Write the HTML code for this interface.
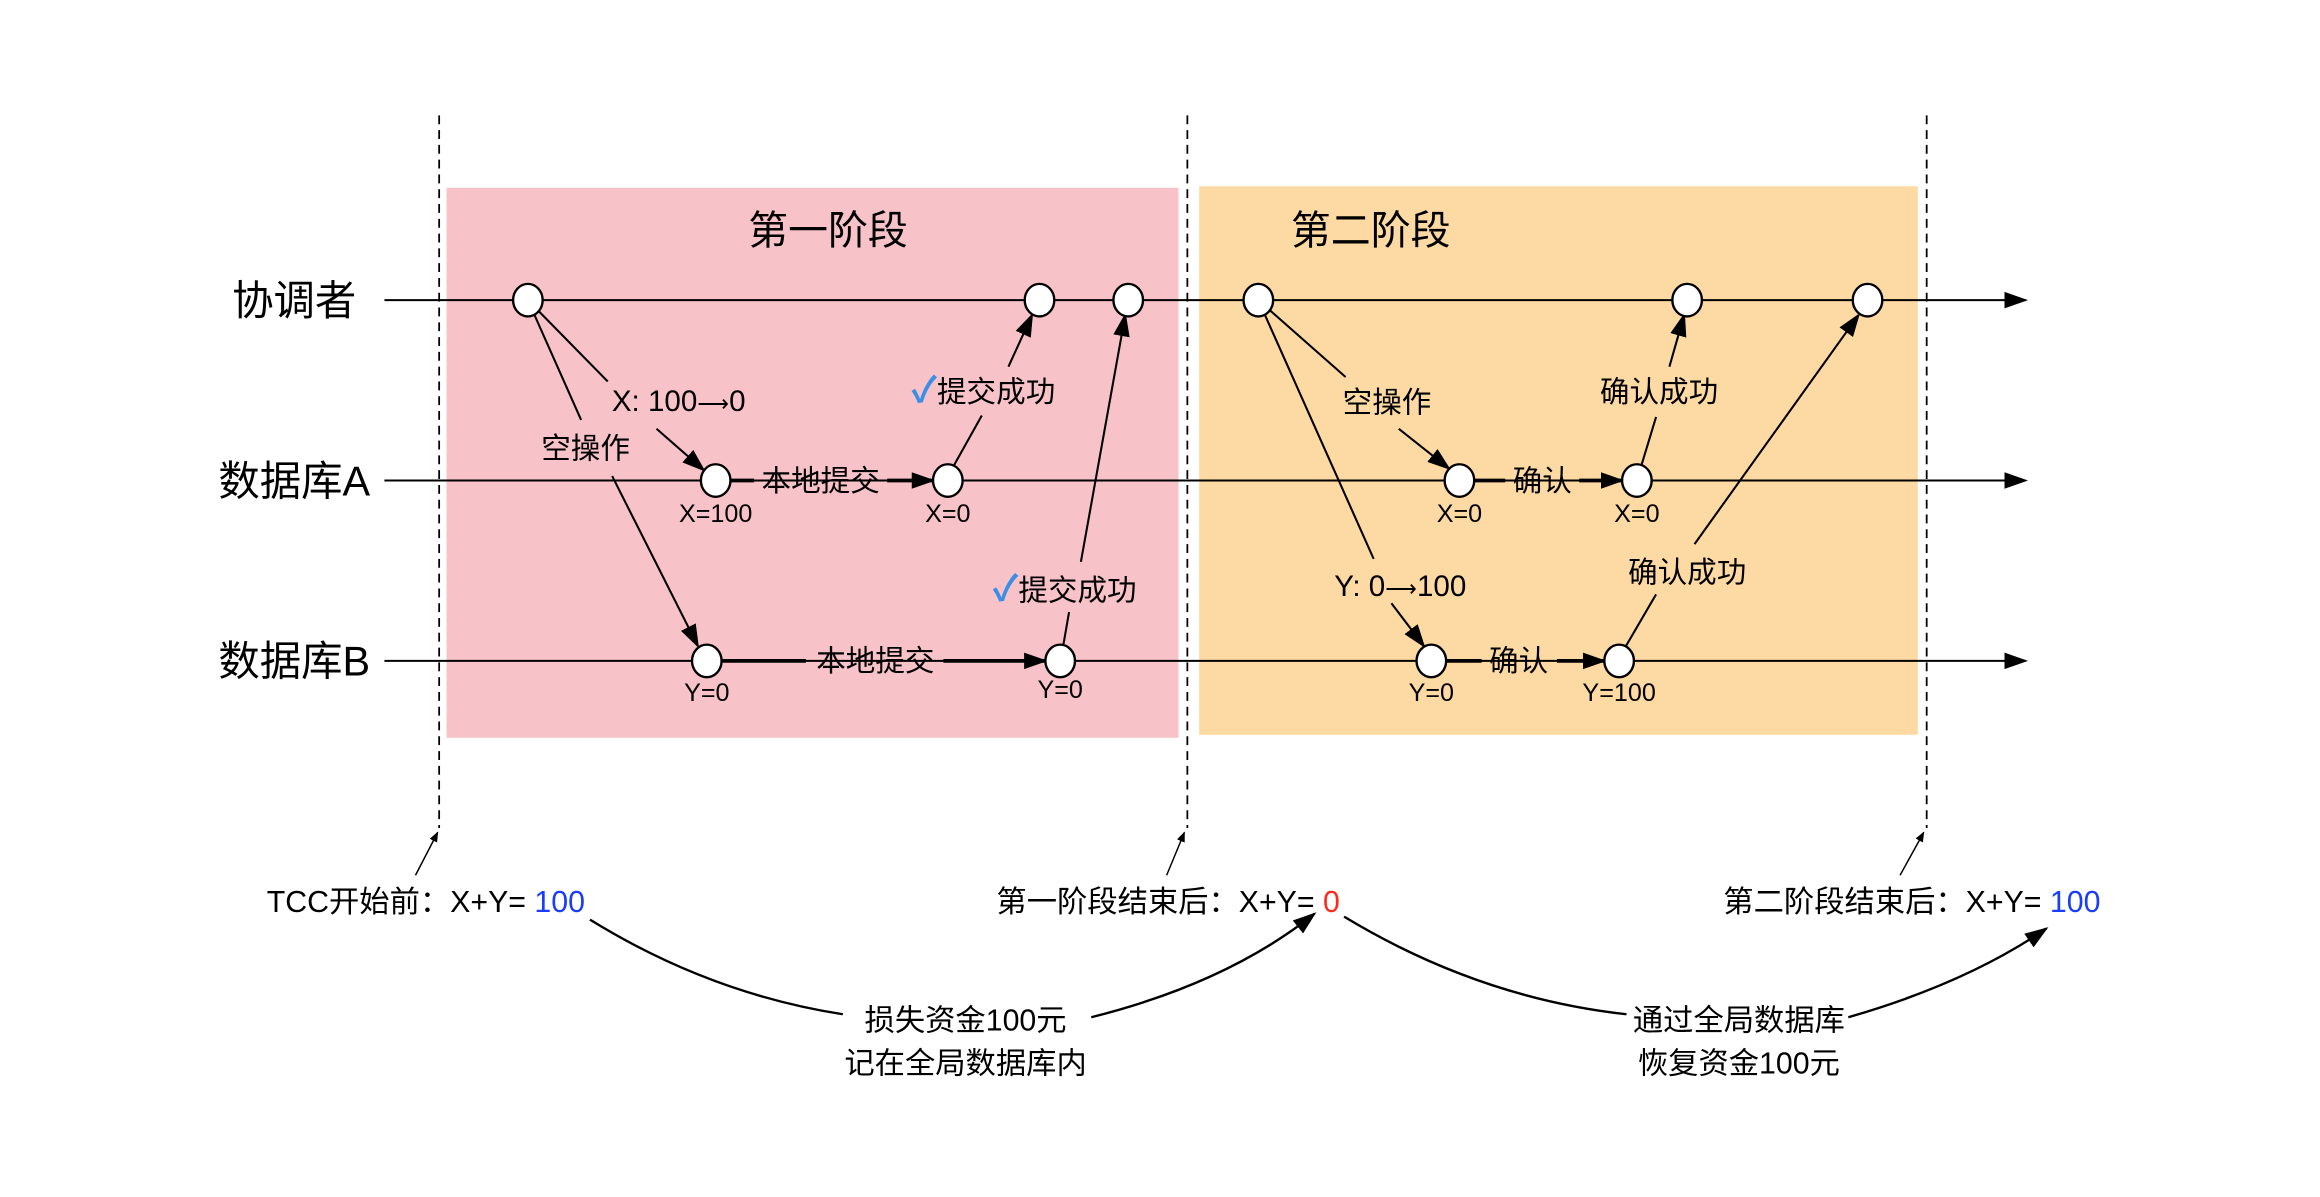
<!DOCTYPE html>
<html><head><meta charset="utf-8"><style>
html,body{margin:0;padding:0;background:#fff;}
svg{display:block;}
text{font-family:"Liberation Sans","Noto Sans CJK SC",sans-serif;fill:#000;}
</style></head><body>
<svg width="2320" height="1197" viewBox="0 0 1569 809.6" preserveAspectRatio="none" xmlns="http://www.w3.org/2000/svg">
<defs>
<marker id="b" viewBox="0 0 10 10" refX="9" refY="5" markerWidth="16" markerHeight="16" markerUnits="userSpaceOnUse" orient="auto"><path d="M0,1.5L10,5L0,8.5z" fill="#000"/></marker>
<marker id="s" viewBox="0 0 10 10" refX="9" refY="5" markerWidth="7" markerHeight="7" markerUnits="userSpaceOnUse" orient="auto"><path d="M0,1L10,5L0,9z" fill="#000"/></marker>
</defs>
<rect x="302" y="127" width="495" height="372" fill="#f8c2c9"/>
<rect x="811" y="126" width="486" height="371" fill="#fdd9a3"/>
<g stroke="#000" stroke-width="1.2" stroke-dasharray="6,4">
<line x1="297" y1="78" x2="297" y2="560"/>
<line x1="803" y1="78" x2="803" y2="560"/>
<line x1="1303" y1="78" x2="1303" y2="560"/>
</g>
<g stroke="#000" stroke-width="1.4">
<line x1="260" y1="203" x2="1370" y2="203" marker-end="url(#b)"/>
<line x1="260" y1="325" x2="1370" y2="325" marker-end="url(#b)"/>
<line x1="260" y1="447" x2="1370" y2="447" marker-end="url(#b)"/>
</g>
<g font-size="28" text-anchor="middle">
<text x="199" y="213">协调者</text>
<text x="199" y="335">数据库A</text>
<text x="199" y="457">数据库B</text>
</g>
<g font-size="27" text-anchor="middle">
<text x="560" y="165">第一阶段</text>
<text x="927" y="165">第二阶段</text>
</g>
<g stroke="#000" stroke-width="1.4" fill="none">
<line x1="357" y1="203" x2="411" y2="258"/>
<line x1="444" y1="290" x2="476" y2="318" marker-end="url(#b)"/>
<line x1="357" y1="203" x2="393" y2="284"/>
<line x1="414" y1="322" x2="472" y2="437" marker-end="url(#b)"/>
<line x1="494" y1="325" x2="510" y2="325" stroke-width="2.5"/>
<line x1="600" y1="325" x2="631" y2="325" stroke-width="2.5" marker-end="url(#b)"/>
<line x1="645" y1="315" x2="664" y2="281"/>
<line x1="682" y1="248" x2="698" y2="213" marker-end="url(#b)"/>
<line x1="488" y1="447" x2="545" y2="447" stroke-width="2.5"/>
<line x1="638" y1="447" x2="707" y2="447" stroke-width="2.5" marker-end="url(#b)"/>
<line x1="719" y1="437" x2="723" y2="414"/>
<line x1="731" y1="380" x2="761" y2="213" marker-end="url(#b)"/>
<line x1="851" y1="203" x2="910" y2="255"/>
<line x1="946" y1="290" x2="980" y2="317" marker-end="url(#b)"/>
<line x1="851" y1="203" x2="929" y2="378"/>
<line x1="941" y1="408" x2="963" y2="437" marker-end="url(#b)"/>
<line x1="997" y1="325" x2="1018" y2="325" stroke-width="2.5"/>
<line x1="1068" y1="325" x2="1097" y2="325" stroke-width="2.5" marker-end="url(#b)"/>
<line x1="1110" y1="315" x2="1120" y2="282"/>
<line x1="1129" y1="248" x2="1139" y2="213" marker-end="url(#b)"/>
<line x1="978" y1="447" x2="1002" y2="447" stroke-width="2.5"/>
<line x1="1053" y1="447" x2="1085" y2="447" stroke-width="2.5" marker-end="url(#b)"/>
<line x1="1099" y1="438" x2="1120" y2="402"/>
<line x1="1146" y1="368" x2="1257" y2="213" marker-end="url(#b)"/>
</g>
<g fill="#fff" stroke="#000" stroke-width="1.6">
<ellipse cx="357" cy="203" rx="10" ry="11"/>
<ellipse cx="703" cy="203" rx="10" ry="11"/>
<ellipse cx="763" cy="203" rx="10" ry="11"/>
<ellipse cx="851" cy="203" rx="10" ry="11"/>
<ellipse cx="1141" cy="203" rx="10" ry="11"/>
<ellipse cx="1263" cy="203" rx="10" ry="11"/>
<ellipse cx="484" cy="325" rx="10" ry="11"/>
<ellipse cx="641" cy="325" rx="10" ry="11"/>
<ellipse cx="987" cy="325" rx="10" ry="11"/>
<ellipse cx="1107" cy="325" rx="10" ry="11"/>
<ellipse cx="478" cy="447" rx="10" ry="11"/>
<ellipse cx="717" cy="447" rx="10" ry="11"/>
<ellipse cx="968" cy="447" rx="10" ry="11"/>
<ellipse cx="1095" cy="447" rx="10" ry="11"/>
</g>
<g font-size="20" text-anchor="middle">
<text x="459" y="278">X: 100<tspan font-size="15">⟶</tspan>0</text>
<text x="396" y="310">空操作</text>
<text x="555" y="332">本地提交</text>
<text x="665" y="272"><tspan fill="#3a8ee6" font-weight="bold" font-size="24">✓</tspan>提交成功</text>
<text x="592" y="454">本地提交</text>
<text x="720" y="406"><tspan fill="#3a8ee6" font-weight="bold" font-size="24">✓</tspan>提交成功</text>
<text x="938" y="279">空操作</text>
<text x="947" y="403">Y:  0<tspan font-size="15">⟶</tspan>100</text>
<text x="1043" y="332">确认</text>
<text x="1122" y="272">确认成功</text>
<text x="1027" y="454">确认</text>
<text x="1141" y="394">确认成功</text>
</g>
<g font-size="17" text-anchor="middle">
<text x="484" y="353">X=100</text>
<text x="641" y="353">X=0</text>
<text x="987" y="353">X=0</text>
<text x="1107" y="353">X=0</text>
<text x="478" y="474">Y=0</text>
<text x="717" y="472">Y=0</text>
<text x="968" y="474">Y=0</text>
<text x="1095" y="474">Y=100</text>
</g>
<g stroke="#000" stroke-width="1" fill="none">
<line x1="281" y1="592" x2="296" y2="563" marker-end="url(#s)"/>
<line x1="789" y1="592" x2="801" y2="563" marker-end="url(#s)"/>
<line x1="1285" y1="592" x2="1301" y2="563" marker-end="url(#s)"/>
</g>
<g font-size="20.5" text-anchor="middle">
<text x="288" y="617">TCC开始前：X+Y= <tspan fill="#1a3cff">100</tspan></text>
<text x="790" y="617">第一阶段结束后：X+Y= <tspan fill="#ff2a1a">0</tspan></text>
<text x="1293" y="617">第二阶段结束后：X+Y= <tspan fill="#1a3cff">100</tspan></text>
<text x="653" y="697">损失资金100元</text>
<text x="653" y="726">记在全局数据库内</text>
<text x="1176" y="697">通过全局数据库</text>
<text x="1176" y="726">恢复资金100元</text>
</g>
<g stroke="#000" stroke-width="1.6" fill="none">
<path d="M399,622 Q480,672 570,686" />
<path d="M738,688 Q830,665 889,618" marker-end="url(#b)"/>
<path d="M909,620 Q1000,675 1100,686"/>
<path d="M1250,688 Q1330,665 1384,628" marker-end="url(#b)"/>
</g>
</svg>
</body></html>
